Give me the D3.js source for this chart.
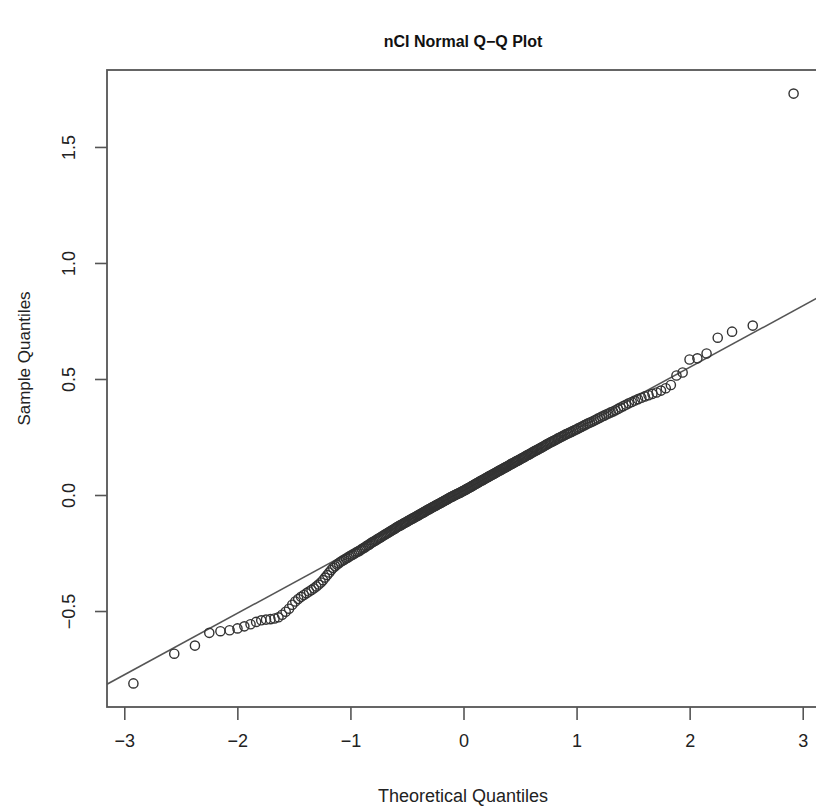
<!DOCTYPE html>
<html lang="en">
<head>
  <meta charset="UTF-8" />
  <title>nCI Normal Q-Q Plot</title>
  <script src="https://d3js.org/d3.v7.min.js"></script>
  <style>
    html, body {
      margin: 0;
      padding: 0;
      background: #fff;
    }
    svg {
      display: block;
      font-family: "Liberation Sans", Arial, sans-serif;
    }
  </style>
</head>
<body>
<svg width="816" height="810"></svg>
<script>
  // sorted sample values (nCI)
  const sampleValues = [
    -0.812, -0.684, -0.649, -0.594, -0.587, -0.583, -0.575, -0.566, -0.557, -0.547,
    -0.540, -0.537, -0.535, -0.532, -0.527, -0.516, -0.503, -0.490, -0.473, -0.459,
    -0.448, -0.439, -0.431, -0.423, -0.416, -0.409, -0.402, -0.394, -0.386, -0.377,
    -0.367, -0.356, -0.345, -0.334, -0.323, -0.314, -0.307, -0.300, -0.294, -0.288,
    -0.283, -0.279, -0.274, -0.270, -0.265, -0.261, -0.257, -0.253, -0.249, -0.245,
    -0.242, -0.238, -0.233, -0.229, -0.226, -0.221, -0.217, -0.214, -0.209, -0.205,
    -0.202, -0.198, -0.195, -0.191, -0.188, -0.184, -0.181, -0.177, -0.174, -0.170,
    -0.167, -0.164, -0.161, -0.157, -0.154, -0.151, -0.148, -0.145, -0.141, -0.138,
    -0.135, -0.132, -0.130, -0.127, -0.124, -0.121, -0.119, -0.116, -0.113, -0.110,
    -0.108, -0.105, -0.102, -0.100, -0.097, -0.095, -0.092, -0.089, -0.087, -0.084,
    -0.081, -0.079, -0.076, -0.074, -0.071, -0.068, -0.066, -0.063, -0.061, -0.058,
    -0.056, -0.053, -0.051, -0.049, -0.046, -0.044, -0.041, -0.039, -0.037, -0.034,
    -0.032, -0.029, -0.027, -0.025, -0.022, -0.020, -0.017, -0.015, -0.012, -0.010,
    -0.008, -0.006, -0.003, -0.001, 0.001, 0.003, 0.005, 0.007, 0.009, 0.011, 0.014, 0.016, 0.018,
    0.020, 0.023, 0.025, 0.028, 0.030, 0.032, 0.035, 0.037, 0.040, 0.042, 0.045, 0.047, 0.050,
    0.052, 0.055, 0.057, 0.060, 0.062, 0.064, 0.067, 0.069, 0.072, 0.074, 0.077, 0.079, 0.082, 0.084,
    0.086, 0.089, 0.091, 0.094, 0.096, 0.099, 0.101, 0.104, 0.106, 0.109, 0.111, 0.114, 0.116, 0.119, 0.121,
    0.124, 0.126, 0.129, 0.132, 0.134, 0.137, 0.139, 0.142, 0.145, 0.147, 0.150, 0.152, 0.155, 0.158, 0.160,
    0.163, 0.166, 0.169, 0.172, 0.174, 0.177, 0.180, 0.183, 0.186, 0.189, 0.192, 0.194, 0.197, 0.200, 0.203,
    0.206, 0.209, 0.212, 0.216, 0.219, 0.222, 0.225, 0.228, 0.231, 0.234, 0.237, 0.240, 0.244, 0.247, 0.250,
    0.253, 0.256, 0.260, 0.263, 0.266, 0.269, 0.272, 0.276, 0.279, 0.282,
    0.286, 0.290, 0.293, 0.297, 0.301, 0.305, 0.309, 0.312, 0.316, 0.320,
    0.324, 0.329, 0.333, 0.338, 0.342, 0.347, 0.351, 0.356, 0.360, 0.365,
    0.371, 0.377, 0.383, 0.389, 0.395, 0.401, 0.407, 0.413, 0.419, 0.425,
    0.430, 0.436, 0.442, 0.450, 0.460, 0.474, 0.515, 0.528, 0.584, 0.589,
    0.610, 0.678, 0.704, 0.730, 1.730
  ];

  // qqline
  const lineIntercept = 0.020;
  const lineSlope = 0.265;

  const xTicks = [-3, -2, -1, 0, 1, 2, 3];
  const yTicks = [-0.5, 0.0, 0.5, 1.0, 1.5];

  const titleText = "nCI Normal Q\u2212Q Plot";
  const xLabel = "Theoretical Quantiles";
  const yLabel = "Sample Quantiles";

  // inverse normal cdf (Acklam)
  function qnorm(p) {
    const a = [-3.969683028665376e+01, 2.209460984245205e+02, -2.759285104469687e+02, 1.383577518672690e+02, -3.066479806614716e+01, 2.506628277459239e+00];
    const b = [-5.447609879822406e+01, 1.615858368580409e+02, -1.556989798598866e+02, 6.680131188771972e+01, -1.328068155288572e+01];
    const c = [-7.784894002430293e-03, -3.223964580411365e-01, -2.400758277161838e+00, -2.549732539343734e+00, 4.374664141464968e+00, 2.938163982698783e+00];
    const d = [7.784695709041462e-03, 3.224671290700398e-01, 2.445134137142996e+00, 3.754408661907416e+00];
    const pl = 0.02425;
    let q, r;
    if (p < pl) {
      q = Math.sqrt(-2 * Math.log(p));
      return (((((c[0]*q+c[1])*q+c[2])*q+c[3])*q+c[4])*q+c[5]) / ((((d[0]*q+d[1])*q+d[2])*q+d[3])*q+1);
    }
    if (p > 1 - pl) {
      q = Math.sqrt(-2 * Math.log(1 - p));
      return -(((((c[0]*q+c[1])*q+c[2])*q+c[3])*q+c[4])*q+c[5]) / ((((d[0]*q+d[1])*q+d[2])*q+d[3])*q+1);
    }
    q = p - 0.5; r = q * q;
    return (((((a[0]*r+a[1])*r+a[2])*r+a[3])*r+a[4])*r+a[5])*q / (((((b[0]*r+b[1])*r+b[2])*r+b[3])*r+b[4])*r+1);
  }

  const n = sampleValues.length;
  const points = sampleValues.map((v, i) => ({ x: qnorm((i + 0.5) / n), y: v }));

  const svg = d3.select("svg");
  const plotLeft = 107, plotRight = 820, plotTop = 70, plotBottom = 707;

  // R style 4% padding
  function pad(ext) {
    const r = ext[1] - ext[0];
    return [ext[0] - 0.04 * r, ext[1] + 0.04 * r];
  }
  const x = d3.scaleLinear().domain(pad(d3.extent(points, d => d.x))).range([plotLeft, plotRight]);
  const y = d3.scaleLinear().domain(pad(d3.extent(points, d => d.y))).range([plotBottom, plotTop]);

  const ink = "#222";
  const minus = v => (v < 0 ? "\u2212" : "") + Math.abs(v);

  // title
  svg.append("text")
    .attr("x", 463).attr("y", 47)
    .attr("text-anchor", "middle")
    .attr("font-size", 16).attr("font-weight", "bold")
    .attr("fill", "#111")
    .text(titleText);

  // axes
  const xAxis = svg.append("g").attr("transform", `translate(0,${plotBottom})`)
    .call(d3.axisBottom(x).tickValues(xTicks).tickSize(13).tickPadding(14).tickFormat(minus));
  const yAxis = svg.append("g").attr("transform", `translate(${plotLeft},0)`)
    .call(d3.axisLeft(y).tickValues(yTicks).tickSize(12)
      .tickFormat(v => (v < 0 ? "\u2212" : "") + Math.abs(v).toFixed(1)));

  [xAxis, yAxis].forEach(g => {
    g.select(".domain").remove();
    g.selectAll(".tick line").attr("stroke", "#555").attr("stroke-width", 1.6);
    g.selectAll(".tick text").attr("fill", ink).attr("font-size", 18)
      .attr("font-family", "'Liberation Sans', Arial, sans-serif");
  });
  yAxis.selectAll(".tick text")
    .attr("text-anchor", "middle")
    .attr("x", null).attr("dy", null)
    .attr("transform", "translate(-32,0) rotate(-90)");

  // box
  svg.append("rect")
    .attr("x", plotLeft).attr("y", plotTop)
    .attr("width", plotRight - plotLeft).attr("height", plotBottom - plotTop)
    .attr("fill", "none").attr("stroke", "#555").attr("stroke-width", 1.8);

  // axis labels
  svg.append("text")
    .attr("x", 463).attr("y", 802)
    .attr("text-anchor", "middle")
    .attr("font-size", 18).attr("fill", ink)
    .text(xLabel);
  svg.append("text")
    .attr("transform", `translate(30,${(plotTop + plotBottom) / 2 - 30}) rotate(-90)`)
    .attr("text-anchor", "middle")
    .attr("font-size", 17).attr("fill", ink)
    .text(yLabel);

  // plot area
  svg.append("clipPath").attr("id", "clip")
    .append("rect").attr("x", plotLeft).attr("y", plotTop)
    .attr("width", plotRight - plotLeft).attr("height", plotBottom - plotTop);
  const plot = svg.append("g").attr("clip-path", "url(#clip)");

  const [x0, x1] = x.domain();
  plot.append("line")
    .attr("x1", x(x0)).attr("y1", y(lineIntercept + lineSlope * x0))
    .attr("x2", x(x1)).attr("y2", y(lineIntercept + lineSlope * x1))
    .attr("stroke", "#555").attr("stroke-width", 1.5);

  plot.append("g")
    .selectAll("circle")
    .data(points).join("circle")
    .attr("cx", d => x(d.x)).attr("cy", d => y(d.y))
    .attr("r", 4.6)
    .attr("fill", "none")
    .attr("stroke", "#333").attr("stroke-width", 1.4);
</script>
</body>
</html>
